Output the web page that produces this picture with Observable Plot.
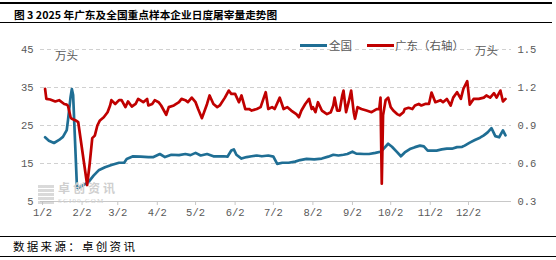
<!DOCTYPE html>
<html><head><meta charset="utf-8">
<script src="https://cdn.jsdelivr.net/npm/d3@7"></script>
<script src="https://cdn.jsdelivr.net/npm/@observablehq/plot@0.6"></script>
<style>
html,body{margin:0;padding:0;background:#fff;}
body{width:556px;height:260px;position:relative;overflow:hidden;font-family:"Noto Sans CJK SC",sans-serif;}
#title{position:absolute;left:0;top:2px;width:552px;height:21px;border-top:2px solid #000;border-bottom:1px solid #000;font-weight:bold;font-size:10.7px;line-height:21px;padding-left:14px;box-sizing:border-box;color:#000;white-space:nowrap;}
#chart{position:absolute;left:0;top:26px;}
#source{position:absolute;left:0;top:236px;width:556px;height:21px;border-top:1px solid #000;border-bottom:1px solid #000;box-sizing:border-box;font-size:11.5px;line-height:19px;padding-left:13px;letter-spacing:2.3px;color:#000;}
.ov{position:absolute;font-size:11.5px;color:#595959;white-space:nowrap;line-height:14px;}
.sw{position:absolute;height:3px;}
#wm-logo{position:absolute;left:38px;top:185px;width:16px;height:19px;opacity:0.55;background:repeating-linear-gradient(0deg,#bbb 0 3px,#fff 3px 4px);}
#wm-cn{position:absolute;left:58px;top:179px;font-size:12px;color:#cfcfcf;font-weight:bold;letter-spacing:3px;white-space:nowrap;}
#wm-en{position:absolute;left:58px;top:196.5px;font-size:7px;color:#cfcfcf;font-family:'Liberation Serif',serif;letter-spacing:1.2px;white-space:nowrap;}
</style></head>
<body>
<div id="title">图 3 2025 年广东及全国重点样本企业日度屠宰量走势图</div>
<div id="chart"></div>
<div id="wm-logo"></div>
<div id="wm-cn">卓创资讯</div>
<div id="wm-en">SCI99.COM</div>
<div class="ov" style="left:55px;top:48px;">万头</div>
<div class="ov" style="left:475px;top:43px;">万头</div>
<div class="sw" style="left:300px;top:44px;width:27px;background:#1f6e94;"></div>
<div class="ov" style="left:329px;top:38px;">全国</div>
<div class="sw" style="left:367px;top:44px;width:27px;background:#c00000;"></div>
<div class="ov" style="left:395px;top:38px;">广东（右轴）</div>
<div id="source">数据来源：卓创资讯</div>
<script>
// x-axis tick labels (month/day, 2025)
const xLabels = ["1/2","2/2","3/2","4/2","5/2","6/2","7/2","8/2","9/2","10/2","11/2","12/2"];
// left axis (全国, 万头)
const leftTicks = [5, 15, 25, 35, 45];
// right axis (广东, 万头)
const rightTicks = [0.3, 0.6, 0.9, 1.2, 1.5];

// 全国: day of year 2025, value (万头)
const nationalDay = [4,7,11,15,18,21,22,24,25,26,29,30,34,38,42,46,51,56,62,66,68,73,79,85,89,94,98,103,109,114,118,122,126,131,136,144,147,150,152,154,158,162,166,170,174,179,183,186,190,195,200,204,209,215,221,226,230,234,238,241,245,248,254,258,263,267,269,273,276,280,283,286,290,294,298,301,304,307,311,315,319,323,327,331,333,337,341,345,348,351,354,357,360,363,365];
const nationalValue = [21.9,21.0,20.4,21.2,22.0,23.8,26.5,32.5,34.6,33.0,8.7,8.5,9.3,10.1,11.8,13.2,14.0,14.6,15.2,15.2,16.2,16.9,16.8,16.7,16.7,17.5,16.7,17.3,17.2,17.5,17.2,17.8,17.1,17.5,16.9,16.9,16.8,18.4,18.7,17.3,16.3,16.7,16.9,17.1,16.9,17.1,16.8,14.9,15.2,15.2,15.5,15.9,16.2,16.1,16.3,16.8,17.3,17.1,17.3,17.5,18.1,17.6,17.5,17.5,17.8,18.1,18.7,20.2,19.4,18.0,16.9,17.9,18.8,19.3,19.7,19.5,18.4,18.4,18.4,18.7,18.9,18.9,19.3,19.4,19.7,20.5,21.2,21.8,22.4,23.2,24.3,22.2,21.9,23.7,22.4];

// 广东 (右轴): day of year 2025, value (万头)
const guangdongDay = [4,5,8,12,15,19,21,22,24,25,28,30,37,39,41,43,45,47,50,53,55,56,59,62,64,67,69,72,75,77,81,84,85,88,90,93,95,99,101,105,109,111,114,116,119,122,124,127,131,133,136,139,141,145,148,150,153,156,158,161,164,166,170,173,177,179,182,184,188,191,194,197,201,203,205,208,211,213,214,216,218,221,225,228,230,231,233,235,237,238,240,242,244,246,247,249,252,256,260,264,266,267,268,269,271,273,275,277,280,282,285,286,289,292,294,297,299,302,305,307,310,314,316,319,322,324,327,330,332,335,337,340,344,348,350,353,356,358,361,363,365];
const guangdongValue = [1.19,1.11,1.105,1.09,1.10,1.07,1.065,1.055,0.965,0.953,0.94,0.926,0.43,0.60,0.80,0.82,0.90,0.94,0.965,1.005,1.058,1.10,1.07,1.10,1.10,1.045,1.09,1.05,1.07,1.11,1.084,1.11,1.058,1.07,1.10,1.084,1.058,0.985,1.045,1.058,1.084,1.11,1.10,1.084,1.12,1.084,1.03,0.958,1.07,1.137,1.07,1.045,1.058,1.12,1.176,1.15,1.15,1.084,1.137,1.03,1.03,1.018,1.03,1.045,1.163,1.03,1.045,1.03,1.12,1.03,1.045,1.018,0.99,0.965,1.018,1.07,1.11,1.03,1.045,1.005,1.084,1.018,0.99,1.005,1.058,1.12,1.018,1.018,1.137,1.176,1.005,1.084,1.176,1.005,0.953,1.045,1.03,1.018,1.005,1.03,1.03,1.12,0.44,0.98,1.10,1.12,1.045,1.018,0.99,0.98,1.005,1.03,1.04,1.03,1.058,1.07,1.058,1.07,1.07,1.16,1.084,1.10,1.084,1.11,1.058,1.12,1.163,1.11,1.19,1.25,1.065,1.11,1.11,1.12,1.137,1.12,1.155,1.12,1.176,1.09,1.11];

const dayToDate = d => new Date(Date.UTC(2025, 0, d));
// map right-axis values onto the left scale
const [l0, l1] = [leftTicks[0], leftTicks[leftTicks.length - 1]];
const [r0, r1] = [rightTicks[0], rightTicks[rightTicks.length - 1]];
const rightToLeft = v => l0 + (v - r0) * (l1 - l0) / (r1 - r0);
const leftToRight = v => r0 + (v - l0) * (r1 - r0) / (l1 - l0);

const national = nationalDay.map((d, i) => ({date: dayToDate(d), value: nationalValue[i]}));
const guangdong = guangdongDay.map((d, i) => ({date: dayToDate(d), value: rightToLeft(guangdongValue[i])}));
const xTicks = xLabels.map(s => { const [m, d] = s.split("/").map(Number); return new Date(Date.UTC(2025, m - 1, d)); });

const chart = Plot.plot({
  width: 556,
  height: 200,
  marginTop: 23,
  marginBottom: 25,
  marginLeft: 40,
  marginRight: 45,
  style: {fontFamily: "'Liberation Mono', monospace", fontSize: "10.5px", color: "#595959", background: "#fff"},
  x: {type: "utc", domain: [new Date(Date.UTC(2024, 11, 31, 10)), new Date(Date.UTC(2026, 0, 4, 17))]},
  y: {domain: [l0, l1]},
  marks: [
    Plot.ruleY(leftTicks.slice(1), {stroke: "#d0d0d0", strokeDasharray: "4,3"}),
    Plot.ruleY([l0], {stroke: "#c8c8c8"}),
    Plot.axisX(xTicks, {tickSize: 4, tickPadding: 3, stroke: "#c8c8c8", fill: "#595959", label: null,
      tickFormat: d => `${d.getUTCMonth() + 1}/${d.getUTCDate()}`}),
    Plot.axisY(leftTicks, {anchor: "left", tickSize: 0, tickPadding: 7, fill: "#595959", label: null}),
    Plot.axisY(rightTicks.map(rightToLeft), {anchor: "right", tickSize: 0, tickPadding: 6, fill: "#595959", label: null,
      tickFormat: d => leftToRight(d).toFixed(1)}),
    Plot.line(national, {x: "date", y: "value", stroke: "#1f6e94", strokeWidth: 2.7, strokeLinejoin: "round"}),
    Plot.line(guangdong, {x: "date", y: "value", stroke: "#c00000", strokeWidth: 2.7, strokeLinejoin: "round"})
  ]
});
document.getElementById("chart").appendChild(chart);
</script>
</body></html>
